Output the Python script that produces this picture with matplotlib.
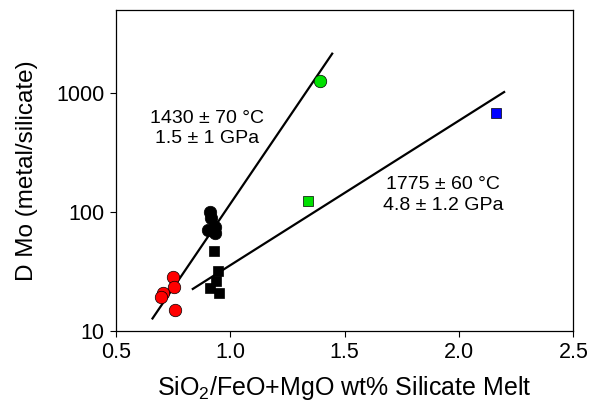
import numpy as np
import matplotlib
matplotlib.use("Agg")
import matplotlib.pyplot as plt

plt.rcParams['font.family'] = ['Liberation Sans', 'DejaVu Sans']
plt.rcParams['mathtext.fontset'] = 'custom'
plt.rcParams['mathtext.rm'] = 'Liberation Sans'
plt.rcParams['mathtext.it'] = 'Liberation Sans'

# data
red_x = [0.750, 0.757, 0.709, 0.698, 0.759]
red_y = [28.5, 23.2, 20.6, 19.3, 15.1]

blk_circ_x = [0.912, 0.917, 0.935, 0.903, 0.935]
blk_circ_y = [99, 89, 75, 70, 66]

blk_sq_x = [0.930, 0.949, 0.940, 0.913, 0.951]
blk_sq_y = [47, 32, 26, 23, 21]

green_circ_x = [1.391]
green_circ_y = [1262]
green_sq_x = [1.340]
green_sq_y = [123]
blue_sq_x = [2.160]
blue_sq_y = [684]

# fit lines (end points)
fit1_x = [0.661, 1.446]
fit1_y = [12.7, 2143]
fit2_x = [0.837, 2.197]
fit2_y = [22.5, 1019]

xticks = [0.5, 1.0, 1.5, 2.0, 2.5]
yticks = [10, 100, 1000]

fig = plt.figure(figsize=(5.9, 4.13), dpi=100)
ax = fig.add_axes([0.196, 0.199, 0.776, 0.777])

ax.plot(fit1_x, fit1_y, color='black', lw=1.6, zorder=2)
ax.plot(fit2_x, fit2_y, color='black', lw=1.6, zorder=2)

ckw = dict(marker='o', ms=9, mec='black', mew=0.5, ls='none', zorder=3)
skw = dict(marker='s', ms=7.5, mec='black', mew=0.5, ls='none', zorder=3)
ax.plot(red_x, red_y, mfc='red', **ckw)
ax.plot(blk_circ_x, blk_circ_y, mfc='black', **ckw)
ax.plot(green_circ_x, green_circ_y, mfc='#00e000', **ckw)
ax.plot(blk_sq_x, blk_sq_y, mfc='black', **skw)
ax.plot(green_sq_x, green_sq_y, mfc='#00e000', **skw)
ax.plot(blue_sq_x, blue_sq_y, mfc='#0000ff', **skw)

ax.set_yscale('log')
ax.set_xlim(0.5, 2.5)
ax.set_ylim(10, 5000)
ax.set_xticks(xticks)
ax.set_xticklabels(['%.1f' % v for v in xticks])
ax.set_yticks(yticks)
ax.set_yticklabels([str(v) for v in yticks])
ax.yaxis.set_minor_locator(matplotlib.ticker.NullLocator())
ax.tick_params(direction='out', length=4, width=0.8, labelsize=15.5, pad=4)

for s in ax.spines.values():
    s.set_linewidth(0.9)

ax.set_xlabel('SiO$_2$/FeO+MgO wt% Silicate Melt', fontsize=18, labelpad=8)
ax.set_ylabel('D Mo (metal/silicate)', fontsize=17.5, labelpad=13)

ax.text(0.199, 0.630, '1430 \u00b1 70 \u00b0C\n1.5 \u00b1 1 GPa', transform=ax.transAxes,
        ha='center', va='center', fontsize=14, linespacing=1.25)
ax.text(0.715, 0.423, '1775 \u00b1 60 \u00b0C\n4.8 \u00b1 1.2 GPa', transform=ax.transAxes,
        ha='center', va='center', fontsize=14, linespacing=1.25)

fig.savefig('out.png', dpi=100)
